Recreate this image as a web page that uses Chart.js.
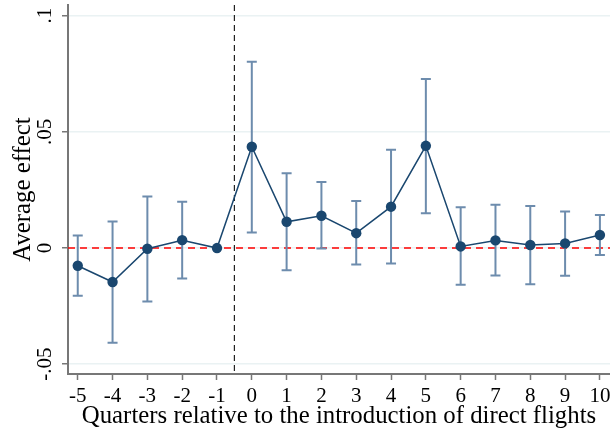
<!DOCTYPE html>
<html lang="en">
<head>
    <meta charset="UTF-8">
    <title>Average effect by quarter</title>
    <script src="https://cdn.jsdelivr.net/npm/chart.js"></script>
    <style>
        body, html {
            margin: 0;
            padding: 0;
            background-color: #ffffff;
        }
        .chart-box {
            position: relative;
            width: 610px;
            height: 435px;
        }
    </style>
</head>
<body>
    <div class="chart-box">
        <canvas id="effectChart"></canvas>
    </div>
    <script>
        // event-time coefficients
        const quarters = [-5, -4, -3, -2, -1, 0, 1, 2, 3, 4, 5, 6, 7, 8, 9, 10];
        const effect   = [-0.0076, -0.0146, -0.0003, 0.0034, 0, 0.0436, 0.0113, 0.0139, 0.0064, 0.0178, 0.0440, 0.0007, 0.0033, 0.0013, 0.0020, 0.0056];
        const ciLower  = [-0.0205, -0.0408, -0.0230, -0.0131, 0, 0.0067, -0.0096, -0.0002, -0.0071, -0.0066, 0.0150, -0.0158, -0.0118, -0.0156, -0.0119, -0.0030];
        const ciUpper  = [0.0054, 0.0114, 0.0222, 0.0199, 0, 0.0802, 0.0322, 0.0284, 0.0202, 0.0423, 0.0728, 0.0176, 0.0186, 0.0181, 0.0157, 0.0142];

        const xTicks = quarters;
        const yTicks = [-0.05, 0, 0.05, 0.1];
        const yTickLabels = ['-.05', '0', '.05', '.1'];
        const eventLine = -0.5;

        const navy = '#1a476f';
        const barColor = '#6d8cad';
        const fontFamily = '"Liberation Serif", "DejaVu Serif", serif';

        // error bars + reference lines, drawn under the line/markers
        const errorBars = {
            id: 'errorBars',
            beforeDatasetsDraw(chart) {
                const { ctx, chartArea, scales: { x, y } } = chart;
                ctx.save();

                // red zero line
                const y0 = y.getPixelForValue(0);
                ctx.strokeStyle = '#ff0000';
                ctx.lineWidth = 1.5;
                ctx.setLineDash([7, 5]);
                ctx.beginPath();
                ctx.moveTo(chartArea.left, y0);
                ctx.lineTo(chartArea.right, y0);
                ctx.stroke();

                // treatment line
                const xe = x.getPixelForValue(eventLine);
                ctx.strokeStyle = '#222222';
                ctx.lineWidth = 1.2;
                ctx.setLineDash([6, 4]);
                ctx.beginPath();
                ctx.moveTo(xe, chartArea.top);
                ctx.lineTo(xe, chartArea.bottom);
                ctx.stroke();

                ctx.setLineDash([]);
                ctx.strokeStyle = barColor;
                ctx.lineWidth = 2;
                quarters.forEach((q, i) => {
                    if (ciLower[i] === ciUpper[i]) return;
                    const px = x.getPixelForValue(q);
                    const lo = y.getPixelForValue(ciLower[i]);
                    const hi = y.getPixelForValue(ciUpper[i]);
                    ctx.beginPath();
                    ctx.moveTo(px, lo);
                    ctx.lineTo(px, hi);
                    ctx.moveTo(px - 5, lo);
                    ctx.lineTo(px + 5, lo);
                    ctx.moveTo(px - 5, hi);
                    ctx.lineTo(px + 5, hi);
                    ctx.stroke();
                });
                ctx.restore();
            }
        };

        const ctx = document.getElementById('effectChart').getContext('2d');
        const effectChart = new Chart(ctx, {
            type: 'line',
            data: {
                datasets: [{
                    data: quarters.map((q, i) => ({ x: q, y: effect[i] })),
                    borderColor: navy,
                    borderWidth: 1.5,
                    backgroundColor: navy,
                    pointRadius: 5.2,
                    pointBorderWidth: 0,
                    pointBackgroundColor: navy,
                    fill: false,
                    tension: 0
                }]
            },
            options: {
                responsive: true,
                maintainAspectRatio: false,
                animation: false,
                layout: { autoPadding: false, padding: { top: 5, right: 0, left: 0, bottom: 0 } },
                plugins: {
                    legend: { display: false },
                    tooltip: { enabled: false }
                },
                scales: {
                    x: {
                        type: 'linear',
                        min: -5.28,
                        max: 10.29,
                        afterBuildTicks: s => { s.ticks = xTicks.map(v => ({ value: v })); },
                        afterFit: s => {
                            s.height = 61;
                            s.paddingLeft = 0;
                            s.paddingRight = 0;
                        },
                        grid: {
                            drawOnChartArea: false,
                            tickLength: 6,
                            tickColor: '#777777',
                            tickWidth: 1.5
                        },
                        border: { color: '#777777', width: 2 },
                        ticks: {
                            color: '#000000',
                            padding: 4,
                            maxRotation: 0,
                            font: { family: fontFamily, size: 21 }
                        },
                        title: {
                            display: true,
                            text: 'Quarters relative to the introduction of direct flights',
                            color: '#000000',
                            padding: { top: 0, bottom: 4 },
                            font: { family: fontFamily, size: 24.8 }
                        }
                    },
                    y: {
                        min: -0.0542,
                        max: 0.1046,
                        afterBuildTicks: s => { s.ticks = yTicks.map(v => ({ value: v })); },
                        afterFit: s => {
                            s.width = 68;
                            s.paddingTop = 0;
                            s.paddingBottom = 0;
                        },
                        grid: {
                            color: '#eaf2f3',
                            lineWidth: 1.5,
                            tickLength: 6,
                            tickColor: '#777777',
                            tickWidth: 1.5
                        },
                        border: { color: '#777777', width: 2 },
                        ticks: {
                            color: '#000000',
                            padding: 0,
                            minRotation: 90,
                            maxRotation: 90,
                            crossAlign: 'center',
                            font: { family: fontFamily, size: 21 },
                            callback: v => yTickLabels[yTicks.indexOf(v)]
                        },
                        title: {
                            display: true,
                            text: 'Average effect',
                            color: '#000000',
                            padding: { top: 9, bottom: 0 },
                            font: { family: fontFamily, size: 24.8 }
                        }
                    }
                }
            },
            plugins: [errorBars]
        });
    </script>
</body>
</html>
